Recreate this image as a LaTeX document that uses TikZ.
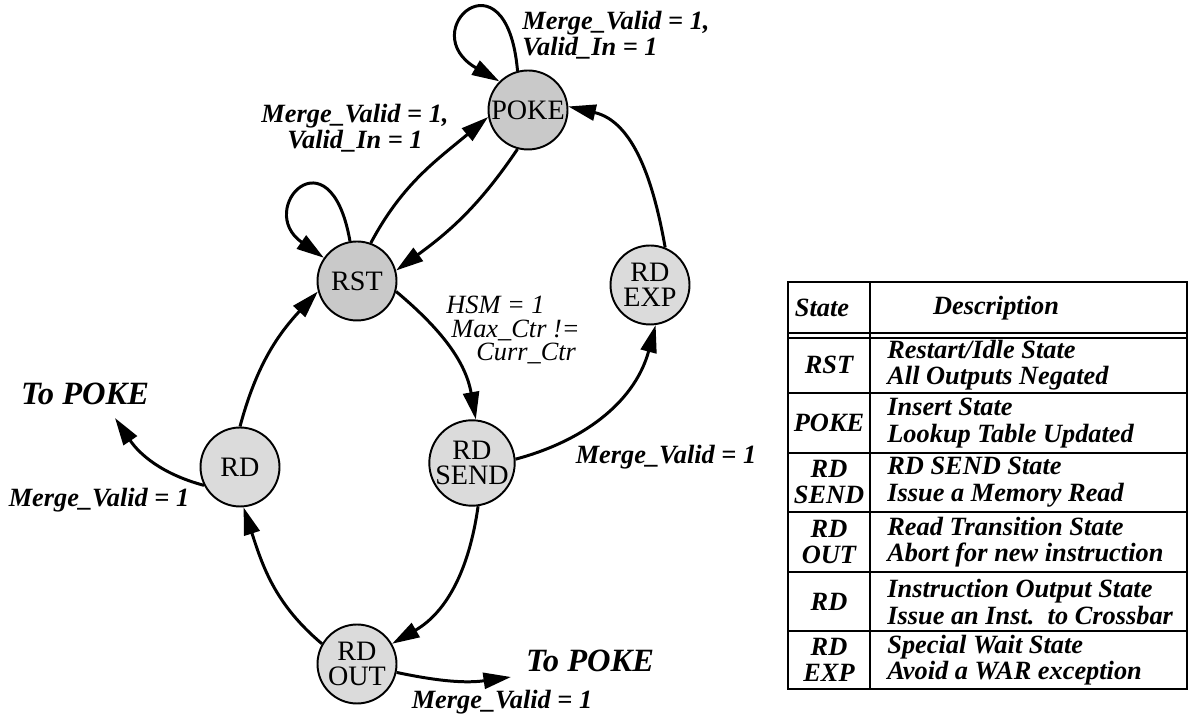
\documentclass[tikz,border=0pt]{standalone}
\usepackage{fontspec}
\setmainfont{Liberation Serif}
\usetikzlibrary{arrows.meta}

\begin{document}
\begin{tikzpicture}[x=0.02cm, y=0.02cm,
    state/.style={circle, draw, line width=1.1pt, fill=gray!28, minimum size=1.58cm,
      inner sep=0pt, align=center, font=\fontsize{16}{14.5}\selectfont},
    darkstate/.style={state, fill=gray!42},
    trans/.style={line width=1.7pt, -{Triangle[length=5.5mm, width=3.2mm]}},
    cond/.style={inner sep=0pt, font=\fontsize{15}{15}\selectfont\bfseries\itshape},
    condlight/.style={inner sep=0pt, font=\fontsize{15}{13.5}\selectfont\itshape},
    target/.style={inner sep=0pt, font=\fontsize{18.5}{18}\selectfont\bfseries\itshape},
    cell/.style={inner sep=0pt, align=center, font=\fontsize{15}{15}\selectfont\bfseries\itshape},
    desc/.style={cell, anchor=west, align=left}]
  \useasboundingbox (0,0) rectangle (1189,715);

  % The states
  \node[darkstate] (poke) at (528,605) {POKE};
  \node[darkstate] (rst) at (357,434) {RST};
  \node[state] (rdexp) at (650,430) {RD\\EXP};
  \node[state] (rdsend) at (472,252) {RD\\SEND};
  \node[state] (rdout) at (357,51) {RD\\OUT};
  \node[state] (rd) at (240,248) {RD};

  % Free ends going back to POKE
  \coordinate (tp1) at (115,297);
  \coordinate (tp2) at (511,38);

  % Self loops
  \draw[trans] (poke.105) .. controls +(95:125) and +(150:100) .. (poke.135);
  \draw[trans] (rst.100) .. controls +(100:115) and +(145:85) .. (rst.145);

  % Transitions
  \draw[trans] (rst.70) to[out=62, in=220] (poke.190);
  \draw[trans] (poke.255) to[out=236, in=36] (rst.15);
  \draw[trans] (rst.-15) to[out=-40, in=100] (rdsend.85);
  \draw[trans] (rdsend.5) to[out=15, in=255] (rdexp.-82);
  \draw[trans] (rdexp.68) to[out=100, in=-13] (poke.5);
  \draw[trans] (rdsend.-82) to[out=262, in=30] (rdout.30);
  \draw[trans] (rdout.150) to[out=140, in=-72] (rd.-85);
  \draw[trans] (rd.90) to[out=75, in=227] (rst.195);
  \draw[trans] (rd.207) to[out=165, in=-56] (tp1);
  \draw[trans] (rdout.-12) to[out=-12, in=188] (tp2);

  % Conditions
  \node[cond, align=left] (lpokeloop) at (616,680) {Merge\_Valid = 1,\\Valid\_In = 1};
  \node[cond, align=center] (lrstpoke) at (355,587) {Merge\_Valid = 1,\\Valid\_In = 1};
  \node[condlight, align=left, anchor=west] (lhsm) at (446,385)
    {HSM = 1\\\hspace*{0.1cm}Max\_Ctr !=\\\hspace*{0.6cm}Curr\_Ctr};
  \node[cond] (lsendexp) at (666,258) {Merge\_Valid = 1};
  \node[cond] (lrd) at (99,215) {Merge\_Valid = 1};
  \node[cond] (lrdout) at (502,13) {Merge\_Valid = 1};
  \node[target] (ttp1) at (85,321) {To POKE};
  \node[target] (ttp2) at (590,54) {To POKE};

  % State table
  \draw[line width=1.5pt] (788,26) rectangle (1187,433);
  \draw[line width=1.2pt] (870,26) -- (870,433);
  \draw[line width=1.5pt] (788,382) -- (1187,382);
  \draw[line width=1pt] (788,377) -- (1187,377);
  \draw[line width=1.2pt] (788,322) -- (1187,322);
  \draw[line width=1.2pt] (788,262) -- (1187,262);
  \draw[line width=1.2pt] (788,203) -- (1187,203);
  \draw[line width=1.2pt] (788,143) -- (1187,143);
  \draw[line width=1.2pt] (788,84) -- (1187,84);

  \node[cell] (hstate) at (822,407) {State};
  \node[cell] (hdesc) at (996,407) {Description};

  \node[cell] (srst) at (829,350) {RST};
  \node[desc] (drst) at (887,350) {Restart/Idle State\\All Outputs Negated};
  \node[cell] (spoke) at (829,292) {POKE};
  \node[desc] (dpoke) at (887,292) {Insert State\\Lookup Table Updated};
  \node[cell] (ssend) at (829,233) {RD\\SEND};
  \node[desc] (dsend) at (887,233) {RD SEND State\\Issue a Memory Read};
  \node[cell] (sout) at (829,173) {RD\\OUT};
  \node[desc] (dout) at (887,173) {Read Transition State\\Abort for new instruction};
  \node[cell] (srd) at (829,113) {RD};
  \node[desc] (drd) at (887,113) {Instruction Output State\\Issue an Inst.\ \ to Crossbar};
  \node[cell] (sexp) at (829,55) {RD\\EXP};
  \node[desc] (dexp) at (887,55) {Special Wait State\\Avoid a WAR exception};
\end{tikzpicture}
\end{document}
